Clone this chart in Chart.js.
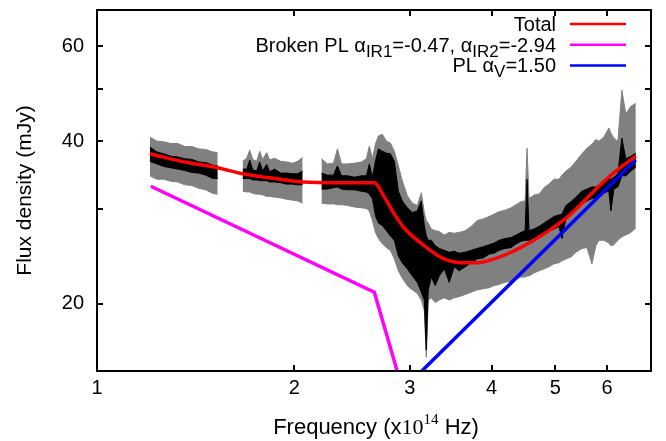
<!DOCTYPE html>
<html>
<head>
<meta charset="utf-8">
<script src="https://cdn.jsdelivr.net/npm/chart.js@4.4.0/dist/chart.umd.min.js"></script>
<style>
  body { margin: 0; background: #fff; }
  #wrap { width: 666px; height: 441px; }
</style>
</head>
<body>
<div id="wrap"><canvas id="sed" width="666" height="441"></canvas></div>
<script>
// spectrum (x10^14 Hz, mJy) - null marks the gaps between the three pieces
const freq = [1.204, 1.234, 1.264, 1.296, 1.328, 1.361, 1.395, 1.430, 1.465, 1.502, 1.528,
  1.60,
  1.668, 1.692, 1.710, 1.728, 1.752, 1.771, 1.789, 1.815, 1.834, 1.866, 1.906, 1.946, 1.987, 2.022, 2.059,
  2.13,
  2.200, 2.247, 2.295, 2.327, 2.360, 2.410, 2.470, 2.531, 2.576, 2.603,
  2.631, 2.659, 2.687, 2.725, 2.763, 2.802, 2.842, 2.882, 2.922, 2.974,
  3.027, 3.080, 3.124, 3.157, 3.179, 3.201, 3.235, 3.281, 3.327, 3.386,
  3.446, 3.507, 3.569, 3.645, 3.722, 3.801, 3.882, 3.965, 4.035, 4.106,
  4.193, 4.282, 4.358, 4.435, 4.498, 4.529, 4.561, 4.642, 4.724, 4.808,
  4.892, 4.979, 5.067, 5.120, 5.193, 5.284, 5.378, 5.492, 5.589, 5.688,
  5.768, 5.829, 5.932, 6.037, 6.080, 6.144, 6.231, 6.319, 6.408, 6.521, 6.636];

// grey = error envelope, black = data
const greyHi = [40.7, 40.0, 39.9, 39.6, 39.6, 39.1, 39.1, 38.7, 38.6, 38.2, 38.1,
  null,
  36.7, 37.2, 38.5, 37.0, 36.7, 38.3, 37.0, 38.1, 36.9, 37.2, 36.7, 36.6, 36.4, 36.7, 37.3,
  null,
  37.1, 36.3, 36.4, 38.7, 36.3, 36.3, 36.4, 36.6, 37.1, 39.2,
  37.1, 39.5, 40.9, 41.2, 40.0, 39.7, 38.3, 36.0, 33.8, 31.7,
  30.7, 30.4, 32.1, 29.5, 28.5, 28.2, 27.5, 27.3, 27.2, 26.8,
  27.1, 27.0, 27.1, 27.3, 27.8, 28.5, 28.7, 29.0, 29.3, 29.6,
  29.8, 30.1, 30.5, 30.9, 31.0, 38.8, 31.3, 31.8, 31.9, 32.8,
  33.3, 34.0, 34.0, 34.6, 35.2, 35.8, 36.7, 37.9, 38.8, 39.5,
  40.3, 40.0, 40.7, 42.3, 41.4, 40.5, 40.0, 49.7, 44.9, 46.4, 47.0];
const greyLo = [34.5, 34.0, 34.0, 33.7, 33.6, 33.2, 33.1, 32.7, 32.5, 32.0, 31.9,
  null,
  32.3, 32.2, 32.2, 32.0, 31.9, 31.9, 31.8, 31.6, 31.6, 31.5, 31.4, 31.2, 31.1, 31.0, 30.7,
  null,
  30.7, 30.6, 30.6, 30.5, 30.5, 30.4, 30.2, 30.1, 30.0, 29.7,
  28.5, 27.1, 26.4, 25.8, 25.4, 25.1, 24.2, 23.0, 22.3, 21.6,
  21.2, 20.9, 20.3, 19.4, 15.9, 20.3, 20.5, 20.1, 20.3, 20.5,
  20.3, 20.5, 20.6, 20.8, 21.0, 21.2, 21.3, 21.4, 21.6, 21.7,
  21.9, 22.0, 22.2, 22.4, 22.4, 22.5, 22.5, 22.8, 23.0, 23.2,
  23.4, 23.7, 23.8, 24.0, 24.2, 24.4, 24.9, 25.3, 25.4, 23.7,
  25.6, 26.2, 26.2, 25.9, 25.6, 25.7, 26.2, 26.6, 26.8, 27.1, 27.6];
const blackHi = [39.0, 38.2, 37.9, 37.5, 37.4, 37.1, 37.0, 36.6, 36.5, 36.1, 36.0,
  null,
  35.5, 35.5, 36.9, 35.4, 35.2, 36.6, 35.2, 36.2, 35.1, 35.5, 34.9, 34.9, 34.8, 34.8, 35.2,
  null,
  34.9, 34.6, 34.6, 36.0, 34.5, 34.5, 34.3, 34.5, 34.5, 36.3,
  34.3, 36.7, 38.7, 38.3, 38.0, 37.9, 36.7, 32.3, 31.0, 30.1,
  29.5, 29.7, 31.0, 27.9, 26.7, 26.2, 26.2, 25.6, 25.3, 25.1,
  24.9, 25.0, 24.8, 24.9, 25.1, 25.3, 25.5, 25.7, 25.9, 26.2,
  26.4, 26.5, 26.8, 27.1, 27.3, 34.0, 27.3, 27.5, 27.8, 28.2,
  28.6, 29.0, 29.2, 29.3, 30.4, 30.9, 31.5, 32.3, 32.6, 32.9,
  32.9, 33.2, 33.8, 34.2, 34.0, 34.3, 34.8, 40.5, 37.1, 37.5, 38.0];
const blackLo = [36.7, 36.3, 35.9, 35.7, 35.5, 35.3, 35.0, 34.9, 34.6, 34.1, 34.1,
  null,
  34.1, 34.1, 34.1, 33.9, 33.9, 33.8, 33.8, 33.8, 33.6, 33.6, 33.5, 33.3, 33.3, 33.2, 33.2,
  null,
  32.6, 32.6, 32.8, 32.9, 32.6, 32.5, 32.5, 32.3, 32.2, 31.9,
  31.3, 29.1, 28.2, 27.9, 27.3, 26.7, 26.2, 24.5, 23.8, 23.2,
  22.5, 21.9, 21.0, 20.3, 16.4, 21.2, 22.4, 21.6, 22.5, 23.2,
  21.9, 23.4, 23.0, 23.4, 23.8, 24.2, 24.3, 24.7, 24.8, 25.1,
  25.3, 25.4, 25.8, 26.1, 26.2, 26.2, 26.2, 26.5, 26.7, 27.0,
  27.3, 27.5, 27.8, 26.4, 28.8, 29.3, 30.0, 30.6, 31.0, 31.3,
  31.4, 31.7, 32.1, 32.3, 29.7, 32.6, 32.9, 34.5, 34.5, 35.2, 35.8];

// model curves
const totalFreq = [1.204, 1.361, 1.528, 1.668, 1.834, 2.059, 2.343, 2.649, 2.744, 2.842, 2.943, 3.048, 3.157,
  3.269, 3.386, 3.594, 3.801, 4.035, 4.282, 4.609, 4.892, 5.193, 5.492, 5.829, 6.187, 6.636];
const totalFlux = [37.9, 36.6, 35.7, 34.8, 34.2, 33.6, 33.5, 33.5, 31.5, 29.3, 27.6, 26.5, 25.6,
  24.8, 24.2, 23.8, 23.8, 24.2, 24.9, 26.1, 27.3, 28.8, 30.7, 33.0, 35.2, 37.5];
const brokenFreq = [1.208, 2.649, 2.87];
const brokenFlux = [33.0, 21.0, 15.0];
const plFreq = [3.13, 6.636];
const plFlux = [15.0, 36.9];

const xTickValues = [1, 2, 3, 4, 5, 6];
const yTickValues = [20, 30, 40, 50, 60];
const yTickLabelled = [20, 40, 60];

// legend rows: [text, 'sub'|''] pieces
const legendRows = [
  { color: '#ff0000', parts: [['Total', '']] },
  { color: '#ff00ff', parts: [['Broken PL α', ''], ['IR1', 'sub'], ['=-0.47, α', ''], ['IR2', 'sub'], ['=-2.94', '']] },
  { color: '#0000ff', parts: [['PL α', ''], ['V', 'sub'], ['=1.50', '']] }
];

const SANS = '"Liberation Sans", Arial, Helvetica, sans-serif';
const SERIF = '"Liberation Serif", "Times New Roman", serif';

function pts(xs, ys) {
  return xs.map((v, i) => ({ x: v, y: ys[i] }));
}

function keyFont(kind) {
  if (kind === 'sub') return '17px ' + SANS;
  return '20px ' + SANS;
}

// draw a row of text pieces, right aligned at xRight
function drawRich(ctx, parts, xRight, baseY, fontFor) {
  let widths = parts.map(p => { ctx.font = fontFor(p[1]); return ctx.measureText(p[0]).width; });
  let total = widths.reduce((a, b) => a + b, 0);
  let x = xRight - total;
  parts.forEach((p, i) => {
    ctx.font = fontFor(p[1]);
    let dy = p[1] === 'sub' ? 5 : (p[1] === 'sup' ? -10 : 0);
    ctx.fillText(p[0], x, baseY + dy);
    x += widths[i];
  });
  return total;
}

const framePlugin = {
  id: 'framePlugin',
  afterDraw(chart) {
    const { ctx, chartArea: a, scales } = chart;
    ctx.save();
    ctx.strokeStyle = '#000';
    ctx.lineWidth = 2;
    ctx.lineCap = 'square';
    ctx.beginPath();
    ctx.moveTo(a.left, a.top);
    ctx.lineTo(a.right, a.top);
    ctx.lineTo(a.right, a.bottom);
    ctx.lineTo(a.left, a.bottom);
    ctx.closePath();
    // inward tick marks on all four sides
    xTickValues.forEach(v => {
      const px = Math.round(scales.x.getPixelForValue(v));
      ctx.moveTo(px, a.bottom); ctx.lineTo(px, a.bottom - 5);
      ctx.moveTo(px, a.top); ctx.lineTo(px, a.top + 5);
    });
    yTickValues.forEach(v => {
      const py = Math.round(scales.y.getPixelForValue(v));
      ctx.moveTo(a.left, py); ctx.lineTo(a.left + 5, py);
      ctx.moveTo(a.right, py); ctx.lineTo(a.right - 5, py);
    });
    ctx.stroke();

    // key
    ctx.fillStyle = '#000';
    ctx.textBaseline = 'alphabetic';
    legendRows.forEach((row, i) => {
      const yMid = 24 + i * 20.7;
      drawRich(ctx, row.parts, 556, yMid + 7, keyFont);
      ctx.strokeStyle = row.color;
      ctx.lineWidth = 2.5;
      ctx.lineCap = 'butt';
      ctx.beginPath();
      ctx.moveTo(570, yMid); ctx.lineTo(626, yMid);
      ctx.stroke();
    });

    // x axis title with superscript
    const xParts = [['Frequency (x', ''], ['10', 'serif'], ['14', 'sup'], [' Hz)', '']];
    const fontFor = k => k === 'serif' ? '22px ' + SERIF : (k === 'sup' ? '15px ' + SERIF : '22px ' + SANS);
    let widths = xParts.map(p => { ctx.font = fontFor(p[1]); return ctx.measureText(p[0]).width; });
    let total = widths.reduce((s, w) => s + w, 0);
    drawRich(ctx, xParts, (a.left + a.right) / 2 + 2 + total / 2, 434, fontFor);
    ctx.restore();
  }
};

const ctx = document.getElementById('sed').getContext('2d');
new Chart(ctx, {
  type: 'line',
  data: {
    datasets: [
      { data: pts(freq, greyHi), borderColor: '#808080', backgroundColor: '#808080', borderWidth: 1, fill: '+1', order: 10 },
      { data: pts(freq, greyLo), borderColor: '#808080', borderWidth: 1, fill: false, order: 9 },
      { data: pts(freq, blackHi), borderColor: '#000000', backgroundColor: '#000000', borderWidth: 1, fill: '+1', order: 8 },
      { data: pts(freq, blackLo), borderColor: '#000000', borderWidth: 1, fill: false, order: 7 },
      { data: pts(brokenFreq, brokenFlux), borderColor: '#ff00ff', borderWidth: 3.5, fill: false, order: 3 },
      { data: pts(plFreq, plFlux), borderColor: '#0000ff', borderWidth: 3.5, fill: false, order: 2 },
      { data: pts(totalFreq, totalFlux), borderColor: '#ff0000', borderWidth: 3.5, fill: false, order: 1,
        cubicInterpolationMode: 'monotone' }
    ]
  },
  options: {
    responsive: false,
    animation: false,
    devicePixelRatio: 1,
    spanGaps: false,
    layout: { padding: { top: 10, right: 15, left: 0, bottom: 0 } },
    elements: { point: { radius: 0 }, line: { tension: 0 } },
    plugins: { legend: { display: false }, tooltip: { enabled: false } },
    scales: {
      x: {
        type: 'logarithmic',
        min: 1, max: 7,
        afterBuildTicks: scale => { scale.ticks = xTickValues.map(v => ({ value: v })); },
        afterFit: scale => {
          scale.height = 70;
          scale.paddingLeft = 0; scale.paddingRight = 0;
        },
        ticks: { font: { size: 20, family: SANS }, color: '#000', padding: 5, maxRotation: 0, autoSkip: false,
          callback: v => String(v) },
        grid: { display: false, drawTicks: false },
        border: { display: false }
      },
      y: {
        type: 'logarithmic',
        min: 15, max: 70,
        afterBuildTicks: scale => { scale.ticks = yTickValues.map(v => ({ value: v })); },
        afterFit: scale => {
          scale.width = 97;
          scale.paddingTop = 0; scale.paddingBottom = 0;
        },
        ticks: { font: { size: 20, family: SANS }, color: '#000', padding: 13, autoSkip: false,
          callback: v => yTickLabelled.includes(v) ? String(v) : '' },
        grid: { display: false, drawTicks: false },
        border: { display: false },
        title: { display: true, text: 'Flux density (mJy)', color: '#000', font: { size: 21, family: SANS },
          padding: { top: 13, bottom: 0 } }
      }
    }
  },
  plugins: [framePlugin]
});
</script>
</body>
</html>
